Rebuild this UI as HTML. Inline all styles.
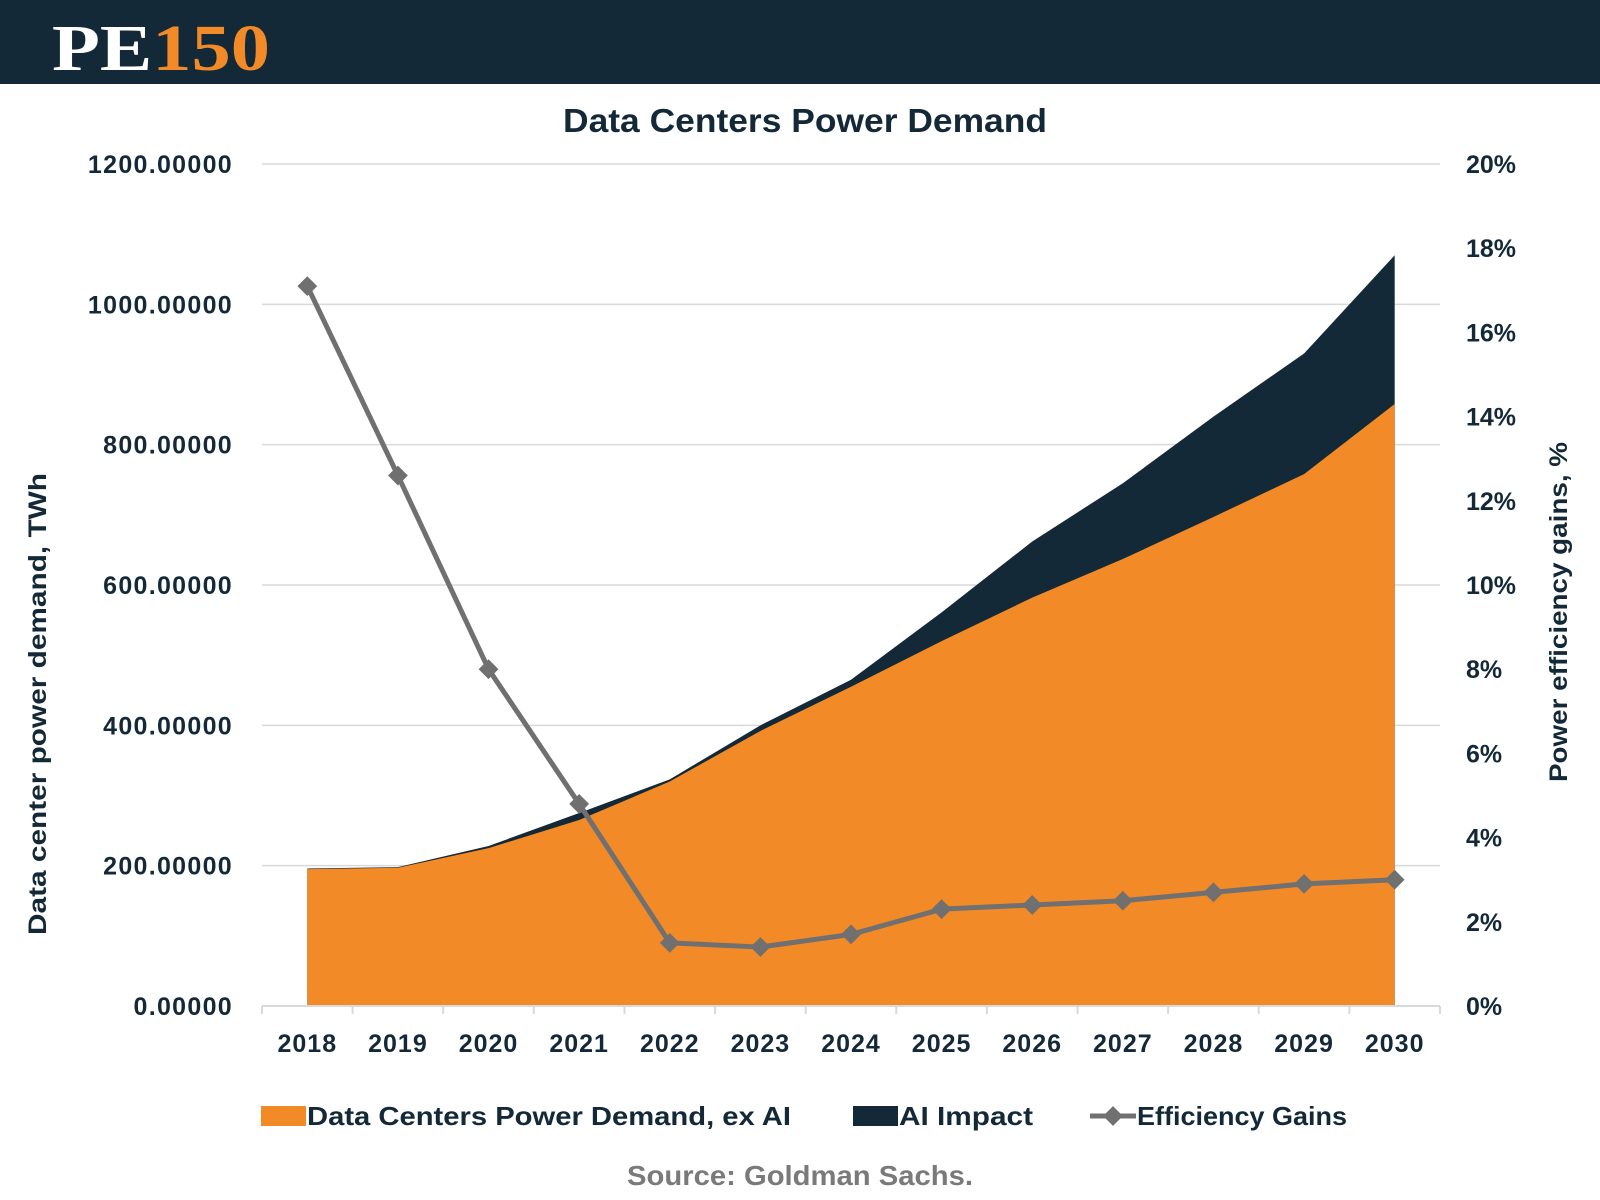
<!DOCTYPE html>
<html><head><meta charset="utf-8"><style>
html,body{margin:0;padding:0;background:#fff;}
svg{display:block;font-family:"Liberation Sans",sans-serif;}
</style></head><body>
<svg id="chart" width="1600" height="1200" viewBox="0 0 1600 1200">
<rect x="0" y="0" width="1600" height="84" fill="#142938"/>
<text x="52" y="70" font-family="Liberation Serif,serif" font-weight="bold" font-size="66" fill="#ffffff" textLength="218" lengthAdjust="spacingAndGlyphs">PE<tspan fill="#f28a28">150</tspan></text>
<text x="805" y="132" text-anchor="middle" font-weight="bold" font-size="33" fill="#142938" textLength="484" lengthAdjust="spacingAndGlyphs">Data Centers Power Demand</text>
<g id="grid"></g>
<g id="areas"></g>
<g id="axes"></g>
<g id="line"></g>
<text transform="translate(46,704) rotate(-90)" text-anchor="middle" font-weight="bold" font-size="25" fill="#142938" textLength="462" lengthAdjust="spacingAndGlyphs">Data center power demand, TWh</text>
<text transform="translate(1567,612) rotate(-90)" text-anchor="middle" font-weight="bold" font-size="25" fill="#142938" textLength="340" lengthAdjust="spacingAndGlyphs">Power efficiency gains, %</text>
<g>
<rect x="261" y="1106" width="45" height="20" fill="#f28a28"/>
<text x="307" y="1125" font-weight="bold" font-size="26" fill="#142938" textLength="484" lengthAdjust="spacingAndGlyphs">Data Centers Power Demand, ex AI</text>
<rect x="853" y="1106" width="45" height="20" fill="#142938"/>
<text x="899" y="1125" font-weight="bold" font-size="26" fill="#142938" textLength="134" lengthAdjust="spacingAndGlyphs">AI Impact</text>
<line x1="1090" y1="1116" x2="1136" y2="1116" stroke="#707070" stroke-width="5"/>
<rect x="1106" y="1109" width="14" height="14" fill="#707070" transform="rotate(45 1113 1116)"/>
<text x="1137" y="1125" font-weight="bold" font-size="26" fill="#142938" textLength="210" lengthAdjust="spacingAndGlyphs">Efficiency Gains</text>
</g>
<text x="800" y="1185" text-anchor="middle" font-weight="bold" font-size="28" fill="#7a7a7a" textLength="346" lengthAdjust="spacingAndGlyphs">Source: Goldman Sachs.</text>
</svg>
<script>
const years = ['2018','2019','2020','2021','2022','2023','2024','2025','2026','2027','2028','2029','2030'];
const exAI = [195,197,225,265,320,392,455,520,582,637,697,758,858];
const aiImpact = [1,1,3,10,3,8,10,41,80,108,143,172,212];
const efficiency = [17.1,12.6,8.0,4.8,1.5,1.4,1.7,2.3,2.4,2.5,2.7,2.9,3.0];
const leftTicks = [0,200,400,600,800,1000,1200];
const rightTicks = [0,2,4,6,8,10,12,14,16,18,20];

const NS='http://www.w3.org/2000/svg';
const X0=262, X1=1440, Y0=1006, Y1=164;
const band=(X1-X0)/years.length;
const x=i=>X0+band*(i+0.5);
const yL=v=>Y0-(v/1200)*(Y0-Y1);
const yR=v=>Y0-(v/20)*(Y0-Y1);
function mk(tag,attrs,parent){const e=document.createElementNS(NS,tag);for(const k in attrs)e.setAttribute(k,attrs[k]);parent.appendChild(e);return e;}
const grid=document.getElementById('grid'),areas=document.getElementById('areas'),axes=document.getElementById('axes'),line=document.getElementById('line');

leftTicks.forEach(v=>{
  if(v>0){const g=mk('line',{x1:X0,x2:X1,y1:yL(v),y2:yL(v),stroke:'#d9d9d9','stroke-width':1.5},grid);
  
  }
  const t=mk('text',{x:233,y:yL(v)+9,'text-anchor':'end','font-weight':'bold','font-size':25,fill:'#142938','letter-spacing':1.3},axes);
  t.textContent=v.toFixed(5);
  
  
});
rightTicks.forEach(v=>{
  const t=mk('text',{x:1466,y:yR(v)+9,'font-weight':'bold','font-size':25,fill:'#142938'},axes);
  t.textContent=v+'%';
  
  
});
const total=exAI.map((v,i)=>v+aiImpact[i]);
let dTot='M'+x(0)+','+Y0;years.forEach((_,i)=>dTot+=' L'+x(i)+','+yL(total[i]));dTot+=' L'+x(years.length-1)+','+Y0+' Z';
const a2=mk('path',{d:dTot,fill:'#142938'},areas);


let dEx='M'+x(0)+','+Y0;years.forEach((_,i)=>dEx+=' L'+x(i)+','+yL(exAI[i]));dEx+=' L'+x(years.length-1)+','+Y0+' Z';
const a1=mk('path',{d:dEx,fill:'#f28a28'},areas);


const ax=mk('line',{x1:X0,x2:X1,y1:Y0,y2:Y0,stroke:'#d9d9d9','stroke-width':2},axes);


for(let i=0;i<=years.length;i++){
  const tk=mk('line',{x1:X0+band*i,x2:X0+band*i,y1:Y0,y2:Y0+8,stroke:'#d9d9d9','stroke-width':2},axes);
  
  
}
years.forEach((yr,i)=>{
  const t=mk('text',{x:x(i),y:1052,'text-anchor':'middle','font-weight':'bold','font-size':25,fill:'#142938','letter-spacing':1},axes);
  t.textContent=yr;
  
  
});
const pl=mk('polyline',{points:efficiency.map((v,i)=>x(i)+','+yR(v)).join(' '),fill:'none',stroke:'#707070','stroke-width':5,'stroke-linejoin':'round'},line);


efficiency.forEach((v,i)=>{
  const m=mk('rect',{x:x(i)-7,y:yR(v)-7,width:14,height:14,fill:'#707070',transform:'rotate(45 '+x(i)+' '+yR(v)+')'},line);
  
  
});
</script>
</body></html>
